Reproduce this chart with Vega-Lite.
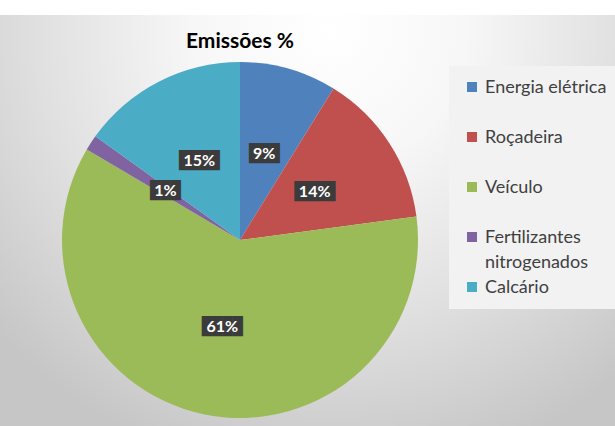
{
  "$schema": "https://vega.github.io/schema/vega-lite/v6.json",
  "width": 750,
  "height": 450,
  "autosize": {"type": "none"},
  "padding": {"left": -135, "top": 15, "right": 0, "bottom": 0},
  "background": "#ffffff",
  "view": {
    "stroke": null,
    "fill": {
      "gradient": "radial",
      "x1": 0.62, "y1": 0.22, "r1": 0,
      "x2": 0.62, "y2": 0.22, "r2": 0.6,
      "stops": [
        {"offset": 0, "color": "#ffffff"},
        {"offset": 0.3, "color": "#f7f7f7"},
        {"offset": 0.65, "color": "#e0e0e0"},
        {"offset": 1, "color": "#c6c6c6"}
      ]
    }
  },
  "title": {
    "text": "Emissões %",
    "font": "Lato",
    "fontSize": 21,
    "fontWeight": "bold",
    "color": "#000000",
    "anchor": "middle",
    "frame": "group",
    "offset": -54,
    "baseline": "alphabetic"
  },
  "data": {
    "values": [
      {"categoria": "Energia elétrica", "valor": 0.088, "ordem": 1},
      {"categoria": "Roçadeira", "valor": 0.141, "ordem": 2},
      {"categoria": "Veículo", "valor": 0.606, "ordem": 3},
      {"categoria": "Fertilizantes nitrogenados", "valor": 0.014, "ordem": 4},
      {"categoria": "Calcário", "valor": 0.151, "ordem": 5}
    ]
  },
  "encoding": {
    "theta": {"field": "valor", "type": "quantitative", "stack": true},
    "order": {"field": "ordem", "type": "quantitative"}
  },
  "layer": [
    {
      "mark": {"type": "arc", "outerRadius": 178},
      "encoding": {
        "color": {
          "field": "categoria",
          "type": "nominal",
          "scale": {
            "domain": ["Energia elétrica", "Roçadeira", "Veículo", "Fertilizantes nitrogenados", "Calcário"],
            "range": ["#4f81bd", "#c0504d", "#9bbb59", "#8064a2", "#4bacc6"]
          },
          "legend": {
            "orient": "none",
            "legendX": 584,
            "legendY": 51,
            "title": null,
            "symbolType": "square",
            "symbolSize": 100,
            "symbolStrokeWidth": 0,
            "labelFont": "Lato",
            "labelFontSize": 18,
            "labelColor": "#404040",
            "labelOffset": 4,
            "symbolOffset": 2,
            "padding": 12,
            "fillColor": "#f2f2f2",
            "gridAlign": "all",
            "rowPadding": 6,
            "labelBaseline": "alphabetic",
            "labelLimit": 300,
            "labelExpr": "datum.label == 'Fertilizantes nitrogenados' ? ['Fertilizantes', 'nitrogenados'] : datum.label",
            "encode": {
              "labels": {"update": {"lineHeight": {"value": 25}, "dy": {"value": 6}}}
            }
          }
        }
      }
    },
    {
      "transform": [{"calculate": "datum.valor >= 0.095 ? '████' : '███'", "as": "caixa"}],
      "mark": {"type": "text", "radius": 89, "font": "DejaVu Sans Mono", "fontSize": 17, "color": "#3b3b3b", "baseline": "middle", "align": "center"},
      "encoding": {"text": {"field": "caixa", "type": "nominal"}}
    },
    {
      "mark": {"type": "text", "radius": 89, "font": "Lato", "fontSize": 16, "fontWeight": "bold", "color": "#ffffff", "baseline": "middle", "align": "center"},
      "encoding": {"text": {"field": "valor", "type": "quantitative", "format": ".0%"}}
    }
  ]
}
